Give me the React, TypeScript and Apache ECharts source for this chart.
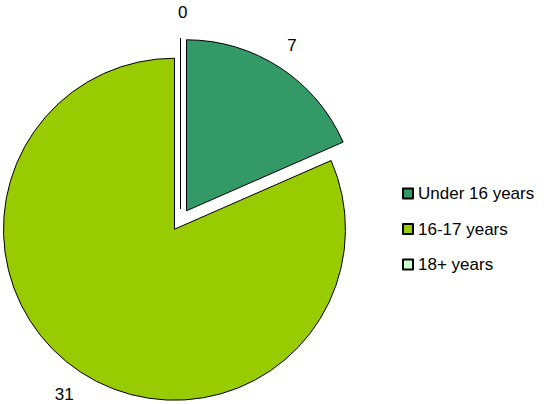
import React, { useEffect, useRef } from "react";
import * as echarts from "echarts";

const categories = ["Under 16 years", "16-17 years", "18+ years"];
const values = [7, 31, 0];
const colors = ["#339966", "#99CC00", "#CCFFCC"];

export default function App() {
  const ref = useRef<HTMLDivElement>(null);
  useEffect(() => {
    if (!ref.current) return;
    const chart = echarts.init(ref.current, null, { renderer: "svg" });
    const font = "Liberation Sans, Arial, sans-serif";
    chart.setOption({
      animation: false,
      legend: {
        orient: "vertical",
        left: 397,
        top: 180,
        itemWidth: 10,
        itemHeight: 10,
        itemGap: 18.5,
        icon: "rect",
        textStyle: { fontFamily: font, fontSize: 17, color: "#000", padding: [0, 0, 0, 0] },
        data: categories,
      },
      series: [
        {
          type: "pie",
          center: [180.5, 220],
          radius: 171,
          startAngle: 90,
          clockwise: true,
          selectedMode: "multiple",
          selectedOffset: 11,
          avoidLabelOverlap: false,
          minShowLabelAngle: 0,
          stillShowZeroSum: true,
          emphasis: { disabled: true },
          itemStyle: { borderColor: "#000", borderWidth: 1 },
          label: {
            show: true,
            position: "outside",
            formatter: "{c}",
            fontFamily: font,
            fontSize: 17,
            color: "#000",
            distanceToLabelLine: 0,
          },
          labelLine: { show: false, length: 26, length2: -7 },
          data: categories.map((name, i) => ({
            name,
            value: values[i],
            selected: true,
            itemStyle: { color: colors[i] },
            select: { itemStyle: { color: colors[i], borderColor: "#000", borderWidth: 1 } },
          })),
        },
      ],
    });
    return () => chart.dispose();
  }, []);
  return <div ref={ref} style={{ width: 547, height: 404, position: "absolute", left: 0, top: 0 }} />;
}
